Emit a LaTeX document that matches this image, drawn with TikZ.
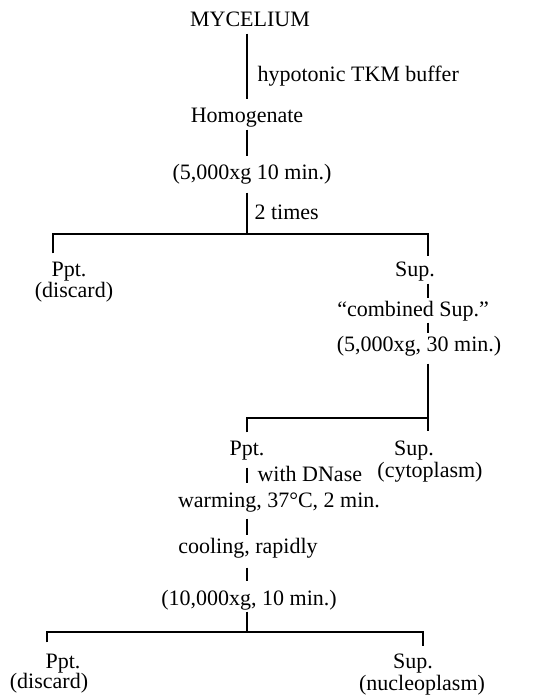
\documentclass[tikz,border=0pt]{standalone}
\usepackage{fontspec}
\setmainfont{Liberation Serif}
\begin{document}
\begin{tikzpicture}[
  x=0.5pt, y=-0.5pt, line width=0.6pt,
  every node/.style={
    font=\fontsize{11}{13}\selectfont, inner sep=0.5pt,
    text height=8pt, text depth=2.5pt, anchor=base
  },
  note/.style={
    anchor=base west
  }
  ]
  \useasboundingbox (0,0) rectangle (545,699);
  \node (myc) at (250,27) {MYCELIUM};
  \node[note] (buffer) at (256,82) {hypotonic TKM buffer};
  \node (hom) at (247,123) {Homogenate};
  \node (spinA) at (252,180) {(5,000xg 10 min.)};
  \node[note] (twice) at (253,220) {2 times};
  \coordinate (barAl) at (53,234);
  \coordinate (barAr) at (428,234);
  \node (pptA) at (69,277) {Ppt.};
  \node (discA) at (74,298) {(discard)};
  \node (supA) at (415,277) {Sup.};
  \node (comb) at (413,316) {``combined Sup.''};
  \node (spinB) at (419,351) {(5,000xg, 30 min.)};
  \coordinate (barBl) at (247,418);
  \coordinate (barBr) at (428,418);
  \node (pptB) at (247,455) {Ppt.};
  \node (supB) at (414,455) {Sup.};
  \node (cyto) at (430,477) {(cytoplasm)};
  \node[note] (dnase) at (256,481) {with DNase};
  \node (warm) at (279,507) {warming, 37°C, 2 min.};
  \node (cool) at (248,553) {cooling, rapidly};
  \node (spinC) at (249,605) {(10,000xg, 10 min.)};
  \coordinate (barCl) at (47,632);
  \coordinate (barCr) at (423,632);
  \node (pptC) at (63,668) {Ppt.};
  \node (discC) at (49,688) {(discard)};
  \node (supC) at (413,668) {Sup.};
  \node (nucl) at (422,690) {(nucleoplasm)};

  \draw[shorten >=3pt] (myc.south -| hom) -- (hom.north);
  \draw[shorten >=3pt] (hom.south) -- (hom.south |- spinA.north);
  \draw[shorten <=3pt] (spinA.south -| hom) -- (hom |- barAl);
  \draw[shorten <=3pt, shorten >=1.5pt] (pptA.north -| barAl) -- (barAl) -- (barAr) -- (supA.north -| barAr);
  \draw (supA.south -| barAr) -- (comb.north -| barAr);
  \draw (comb.south -| barAr) -- (spinB.north -| barAr);
  \draw[shorten <=3pt, shorten >=3pt] (spinB.south -| barAr) -- (supB.north -| barAr);
  \draw[shorten <=2.5pt] (pptB.north -| barBl) -- (barBl) -- (barBr);
  \draw[shorten <=3pt, shorten >=3pt] (pptB.south) -- (warm.north -| pptB);
  \draw[shorten <=2.5pt] (warm.south -| pptB) -- (cool.north -| pptB);
  \draw[shorten <=4pt, shorten >=3pt] (cool.south -| pptB) -- (spinC.north -| pptB);
  \draw (spinC.south -| pptB) -- (pptB |- barCl);
  \draw[shorten <=4pt, shorten >=2pt] (pptC.north -| barCl) -- (barCl) -- (barCr) -- (supC.north -| barCr);
\end{tikzpicture}
\end{document}
